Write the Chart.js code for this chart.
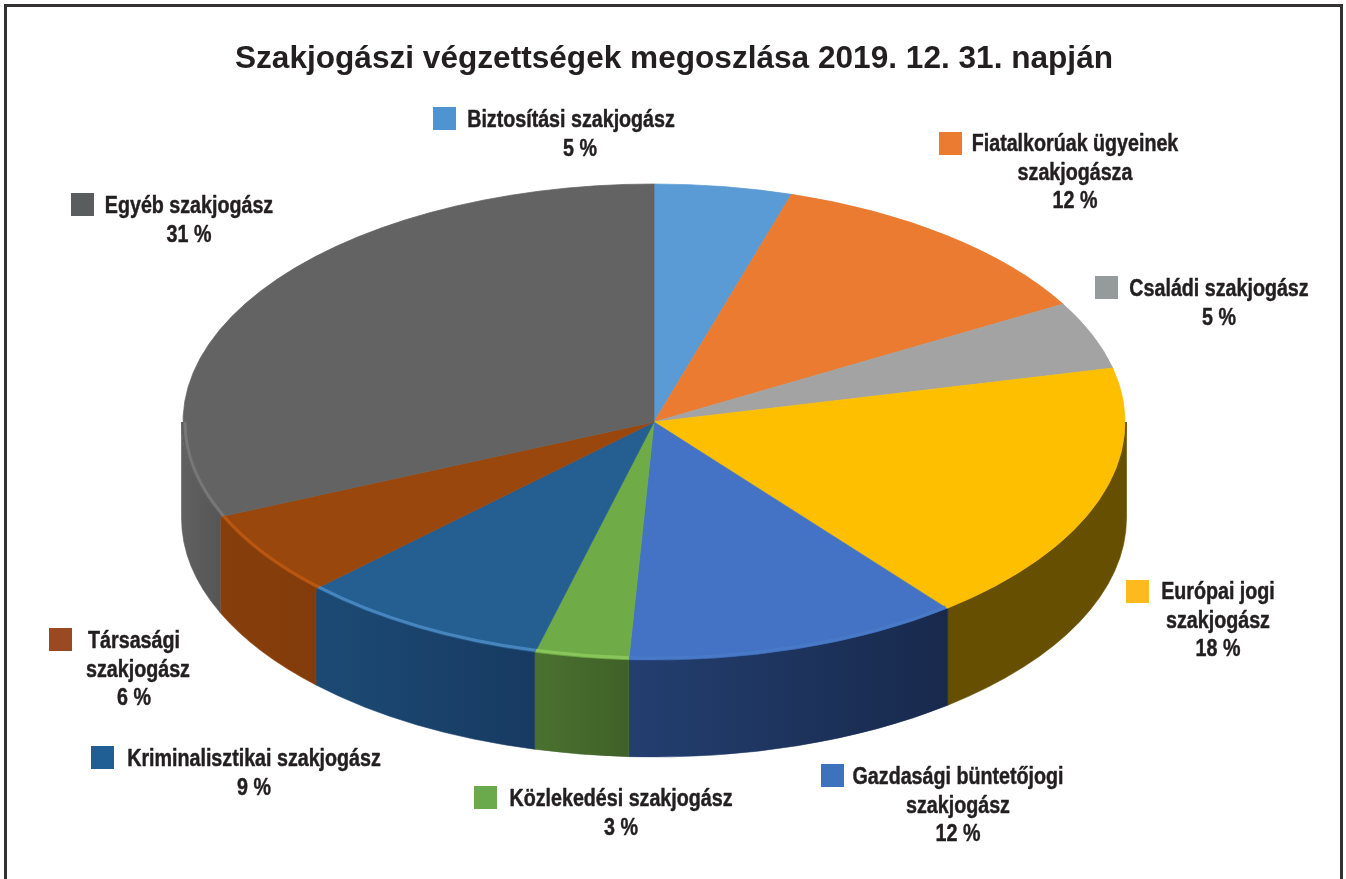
<!DOCTYPE html>
<html lang="hu">
<head>
<meta charset="utf-8">
<title>Szakjogászi végzettségek</title>
<script src="https://cdn.jsdelivr.net/npm/chart.js@4"></script>
<style>html,body{margin:0;padding:0;background:#fff}canvas{display:block}</style>
</head>
<body>
<canvas id="c" width="1346" height="879"></canvas>
<script>
const chartTitle = "Szakjogászi végzettségek megoszlása 2019. 12. 31. napján";
const categories = ["Biztosítási szakjogász","Fiatalkorúak ügyeinek szakjogásza","Családi szakjogász","Európai jogi szakjogász","Gazdasági büntetőjogi szakjogász","Közlekedési szakjogász","Kriminalisztikai szakjogász","Társasági szakjogász","Egyéb szakjogász"];
// Each rounds to the percentage printed beside its slice
const shares = [4.7,12,4.6,17.9,11.5,3.2,8.6,5.8,31.4];
const topColors = ["#5b9bd5","#ea7b30","#a3a3a3","#fdbf00","#4472c4","#6fac47","#255e91","#9a470d","#636363"];
const swatchColors = ["#4f94d0","#ea7b30","#959a9b","#fdb91e","#3d73bd","#6aaa4c","#1f5f93","#9a4a22","#5a5d5e"];
const wallLight = ["#3d6a94","#a0541f","#6e6e6e","#665000","#233f70","#4b7130","#1c4a74","#863f0c","#606060"];
const wallDark = ["#3d6a94","#a0541f","#6e6e6e","#665000","#18294c","#3f6128","#173a62","#823b0a","#555555"];
const rimColors = ["#5b9bd5","#ea7b30","#8a8a8a","#fdbf00","#4a7cc8","#90cc60","#4f8fc8","#c05a14","#7c7c7c"];

// Display layout (pixels on the page), kept apart from the data
const PIE = {cx:654, cy:422, rx:471, ry:238, depth:96};
const LABEL_FONT = 'bold 23px "Liberation Sans",Arial,sans-serif';
const LABEL_SQUEEZE = 0.855;
const LINE_H = 28.6;
const labelLayout = [
 {sx:433,sy:107,tx:571,by:127,brk:0,dx:[0,9]},
 {sx:939,sy:132,tx:1075,by:151,brk:2},
 {sx:1095,sy:276,tx:1219,by:296,brk:0},
 {sx:1126,sy:580,tx:1218,by:599,brk:2},
 {sx:821,sy:764,tx:958,by:784,brk:2},
 {sx:474,sy:786,tx:621,by:806,brk:0},
 {sx:91,sy:746,tx:254,by:766,brk:0},
 {sx:49,sy:628,tx:134,by:648,brk:1,dx:[0,4,0]},
 {sx:71,sy:193,tx:189,by:213,brk:0}
];

const tiltedPie = {
  id:'tiltedPie',
  beforeDraw(chart){
    const {ctx,width,height} = chart;
    ctx.save();
    ctx.fillStyle='#fff'; ctx.fillRect(0,0,width,height);
    ctx.strokeStyle='#333132'; ctx.lineWidth=3;
    ctx.beginPath(); ctx.moveTo(5.5,height+5); ctx.lineTo(5.5,5.5); ctx.lineTo(1341.5,5.5); ctx.lineTo(1341.5,height+5); ctx.stroke();
    ctx.restore();
  },
  beforeDatasetsDraw(chart){
    const ctx = chart.ctx;
    const arcs = chart.getDatasetMeta(0).data;
    // side wall, from each arc's own angles
    arcs.forEach((a,i)=>{
      const s0 = Math.max(a.startAngle,0), e0 = Math.min(a.endAngle,Math.PI);
      if(e0<=s0) return;
      const x0 = PIE.cx+PIE.rx*Math.cos(e0), x1 = PIE.cx+PIE.rx*Math.cos(s0);
      const g = ctx.createLinearGradient(x0,0,x1,0);
      g.addColorStop(0,wallLight[i]); g.addColorStop(1,wallDark[i]);
      ctx.save();
      ctx.fillStyle=g; ctx.strokeStyle=g; ctx.lineWidth=.6;
      ctx.beginPath();
      ctx.ellipse(PIE.cx,PIE.cy+PIE.depth,PIE.rx+1.5,PIE.ry+1,0,s0,e0);
      ctx.ellipse(PIE.cx,PIE.cy,PIE.rx+1.5,PIE.ry,0,e0,s0,true);
      ctx.closePath(); ctx.fill(); ctx.stroke();
      // close the hairline between the wall and the top face
      ctx.lineWidth=3;
      ctx.beginPath();
      ctx.ellipse(PIE.cx,PIE.cy,PIE.rx+.2,PIE.ry,0,s0,e0);
      ctx.stroke();
      ctx.restore();
    });
    const a0 = arcs[0];
    const r = a0.outerRadius;
    ctx.save();
    ctx.translate(PIE.cx,PIE.cy);
    ctx.scale(PIE.rx/r,PIE.ry/r);
    ctx.translate(-a0.x,-a0.y);
  },
  afterDatasetsDraw(chart){
    const ctx = chart.ctx;
    ctx.restore();
    const arcs = chart.getDatasetMeta(0).data;
    // bevel highlight on the front rim
    arcs.forEach((a,i)=>{
      const s = Math.max(a.startAngle,0), e = Math.min(a.endAngle,Math.PI);
      if(e>s){
        ctx.save();
        ctx.filter='blur(0.7px)';
        ctx.strokeStyle=rimColors[i]; ctx.lineWidth=3; ctx.globalAlpha=.8;
        ctx.beginPath();
        ctx.ellipse(PIE.cx,PIE.cy,PIE.rx-2,PIE.ry-2,0,s,e);
        ctx.stroke(); ctx.restore();
      }
    });
    // legend-style labels
    ctx.save();
    ctx.font = LABEL_FONT; ctx.textAlign='center'; ctx.textBaseline='alphabetic';
    ctx.lineJoin='round';
    categories.forEach((name,i)=>{
      const L = labelLayout[i];
      ctx.fillStyle = swatchColors[i];
      ctx.fillRect(L.sx,L.sy,23,23);
      const w = name.split(' ');
      const lines = L.brk ? [w.slice(0,L.brk).join(' '),w.slice(L.brk).join(' ')] : [name];
      lines.push(Math.round(shares[i])+' %');
      ctx.fillStyle='#231f20'; ctx.strokeStyle='#231f20'; ctx.lineWidth=.45;
      lines.forEach((t,k)=>{
        ctx.save();
        ctx.translate(L.tx+((L.dx&&L.dx[k])||0),L.by+k*LINE_H);
        ctx.scale(LABEL_SQUEEZE,1);
        ctx.fillText(t,0,0);
        ctx.strokeText(t,0,0);
        ctx.restore();
      });
    });
    ctx.restore();
  }
};

new Chart(document.getElementById('c'),{
  type:'pie',
  data:{labels:categories,datasets:[{data:shares,backgroundColor:topColors,borderColor:topColors,borderWidth:.8,clip:false}]},
  plugins:[tiltedPie],
  options:{
    responsive:false,animation:false,
    events:[],
    layout:{padding:{left:2}},
    plugins:{
      legend:{display:false},tooltip:{enabled:false},
      title:{display:true,text:chartTitle,color:'#231f20',font:{family:'"Liberation Sans",Arial,sans-serif',weight:'bold',size:31.6},padding:{top:40,bottom:19}}
    }
  }
});
</script>
</body>
</html>
